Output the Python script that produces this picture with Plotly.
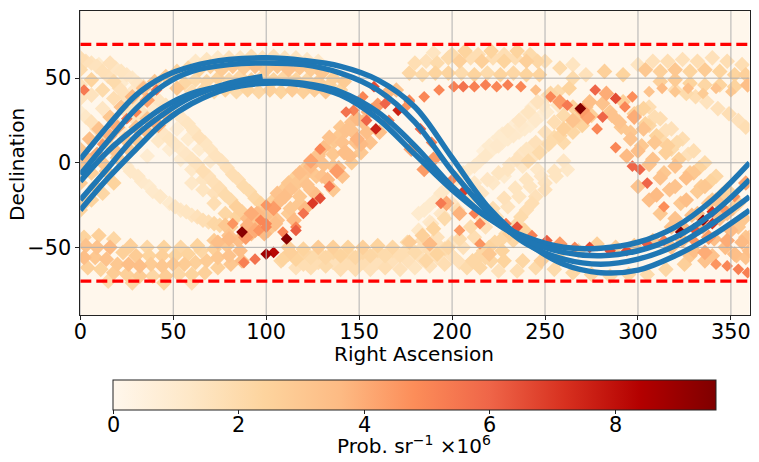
import plotly.graph_objects as go

# heat map pixels: RA, Dec, value (x 1e-6)
# falling bands, left side
fall1_ra = [16, 22, 28, 34, 40, 46, 52, 58, 64, 70, 76, 82, 88, 94, 100, 105]
fall1_dec = [59, 54, 50, 45, 39, 34, 29, 23, 15, 8, 1, -7, -14, -21, -28, -36]
fall1_val = [1.6, 1.4, 1.2, 1.6, 1.3, 1.5, 1.2, 1.4, 1.6, 1.4, 1.5, 1.8, 2.0, 2.2, 3.0, 3.4]

fall2_ra = [0, 6, 12, 18, 24, 30, 36, 42, 48, 54, 60, 66, 72, 78, 84, 90, 96]
fall2_dec = [62, 59, 54, 48, 40, 33, 27, 20, 14, 8, 2, -5, -12, -19, -26, -33, -40]
fall2_val = [1.8, 1.5, 1.7, 2.0, 1.6, 1.4, 1.5, 1.2, 1.4, 1.2, 1.4, 1.8, 1.7, 2.0, 2.6, 3.5, 4.6]

fall3_ra = [0, 6, 12, 18, 25, 31, 37, 43, 48, 54, 60, 66, 72, 78, 82, 87, 80, 74]
fall3_dec = [30, 24, 16, 7, -2, -8, -14, -20, -24, -28, -31, -34, -36, -37, -36, -41, -45, -47]
fall3_val = [1.0, 1.6, 2.0, 1.5, 1.0, 1.2, 1.0, 1.2, 1.0, 1.2, 1.4, 1.8, 2.2, 3.0, 4.6, 9.4, 3.6, 3.4]

fall4_ra = [0, 6, 12, 18, 24, 30, 36, 42, 48, 54, 60, 66, 72]
fall4_dec = [55, 49, 43, 38, 31, 25, 19, 13, 8, 2, -4, -10, -18]
fall4_val = [2.0, 2.4, 2.0, 1.8, 1.5, 1.4, 1.0, 1.2, 0.9, 0.9, 1.2, 1.4, 1.6]

fall5_ra = [0, 6, 12, 18, 24, 30, 36, 0, 2]
fall5_dec = [46, 40, 32, 25, 17, 10, 4, 38, 43]
fall5_val = [1.6, 1.5, 1.3, 1.2, 1.1, 1.0, 0.9, 1.5, 5.4]

fall10_ra = [10, 16, 22, 28, 34, 40, 46, 52, 58, 64, 70, 60, 66, 72, 78, 84, 90, 95, 100]
fall10_dec = [58, 52, 47, 42, 37, 32, 26, 20, 14, 8, 1, -12, -16, -24, -30, -32, -38, -30, -36]
fall10_val = [1.0, 1.2, 1.0, 1.1, 0.9, 1.0, 0.9, 0.8, 1.0, 1.0, 1.1, 1.2, 1.4, 1.8, 2.2, 2.4, 3.0, 3.6, 5.0]

fall12_ra = [3, 9, 15, 21, 27, 33, 39, 45, 51, 57, 63, 69, 75, 81, 87, 93, 99]
fall12_dec = [60, 57, 51, 44, 37, 30, 24, 17, 11, 5, -1, -8, -15, -22, -29, -36, -42]
fall12_val = [1.6, 1.5, 1.6, 1.6, 1.5, 1.4, 1.4, 1.3, 1.3, 1.3, 1.5, 1.6, 1.8, 2.0, 2.6, 3.0, 3.6]

fall13_ra = [19, 25, 31, 37, 43, 49, 55, 61, 67, 73, 79, 85, 91, 97, 103]
fall13_dec = [56, 52, 47, 42, 36, 31, 26, 19, 12, 4, -3, -10, -17, -24, -31]
fall13_val = [1.3, 1.3, 1.3, 1.2, 1.3, 1.2, 1.3, 1.4, 1.4, 1.5, 1.6, 1.8, 2.0, 2.4, 2.8]

fall14_ra = [3, 9, 15, 21, 27, 33, 39, 51, 57, 63, 69, 75, 81]
fall14_dec = [27, 20, 11, 2, -5, -11, -17, -26, -29, -32, -35, -37, -38]
fall14_val = [1.2, 1.6, 1.6, 1.2, 1.2, 1.1, 1.1, 1.4, 1.4, 1.6, 1.8, 2.2, 2.4]

# rising bands along the left part of the orbit
rise1_ra = [0, 4, 9, 12, 16, 20, 25, 30, 36, 41, 46, 42, 36, 31, 26, 20, 14, 8, 2]
rise1_dec = [-2, 2, 5, 11, 16, 21, 26, 30, 37, 43, 29, 22, 18, 13, 8, 3, -5, -14, -24]
rise1_val = [3.0, 3.4, 4.0, 4.5, 3.8, 4.0, 5.6, 5.0, 4.2, 5.6, 3.6, 4.0, 3.5, 3.0, 3.0, 2.8, 2.8, 2.6, 2.4]

rise8_ra = [0, 5, 10, 16, 22, 28, 34, 40, 46, 52, 0, 6, 12, 18, 24, 30, 36, 0, 6, 12, 18]
rise8_dec = [8, 14, 20, 27, 33, 39, 44, 48, 51, 44, -12, -6, 0, 8, 14, 21, 26, -28, -22, -18, -12]
rise8_val = [3.0, 3.4, 3.2, 3.0, 3.2, 3.6, 3.4, 3.0, 2.8, 3.0, 2.8, 2.6, 3.0, 3.2, 3.0, 3.2, 3.2, 2.4, 2.4, 2.2, 2.4]

# top hump, RA 50-150
hump_ra = [60, 66, 72, 78, 84, 90, 96, 102, 108, 114, 120, 126, 132,
           52, 58, 64, 70, 76, 82, 88, 94, 100, 106, 112, 118, 124, 130, 136, 142,
           56, 62, 68, 74, 80, 86, 92, 98, 104, 110, 116, 122, 128, 134, 140,
           62, 68, 74, 80, 86, 92, 98, 104, 110, 116, 122, 128]
hump_dec = [42, 43, 42, 43, 42, 43, 42, 43, 42, 43, 42, 43, 42,
            54, 56, 55, 57, 55, 57, 56, 57, 55, 57, 55, 56, 55, 53, 50, 48,
            47, 49, 48, 50, 49, 51, 49, 51, 49, 51, 49, 49, 48, 46, 43,
            60, 61, 62, 62, 62, 63, 62, 63, 62, 62, 61, 60]
hump_val = [1.8, 2.2, 2.0, 2.4, 2.0, 2.4, 2.2, 2.6, 2.4, 2.8, 2.6, 2.8, 3.0,
            2.4, 2.2, 2.4, 2.6, 2.8, 3.0, 2.8, 3.2, 2.8, 3.0, 3.2, 3.0, 2.8, 3.0, 2.6, 2.8,
            2.2, 2.0, 2.2, 2.4, 2.0, 2.2, 2.4, 2.2, 2.4, 2.2, 2.4, 2.2, 2.6, 2.4, 2.4,
            1.2, 1.4, 1.2, 1.6, 1.4, 1.8, 1.5, 1.6, 1.5, 1.4, 1.3, 1.2]

# rising bands, RA 90-180
rise2_ra = [89, 94, 99, 104, 110, 115, 120, 124, 128, 90, 96, 100, 106, 112, 118, 124, 129, 134, 140, 143, 147, 152, 158]
rise2_dec = [-44, -40, -32, -27, -20, -14, -8, -2, 4, -37, -30, -25, -18, -12, -6, 1, 8, 15, 21, 30, 31, 39, 45]
rise2_val = [4.4, 4.0, 3.4, 4.4, 3.4, 3.0, 3.0, 3.6, 3.2, 3.8, 3.2, 4.6, 3.2, 3.0, 3.4, 4.2, 5.0, 3.2, 3.0, 5.6, 5.2, 5.0, 6.6]

rise3_ra = [88, 94, 100, 104, 111, 116, 120, 125, 129, 134, 138, 143, 149, 154, 159, 164]
rise3_dec = [-59, -57, -54, -53, -45, -40, -30, -24, -21, -14, -5, 6, 14, 25, 20, 35]
rise3_val = [5.2, 5.6, 8.8, 8.2, 9.4, 6.2, 5.6, 7.0, 6.6, 5.4, 4.4, 3.4, 3.8, 6.0, 7.6, 6.0]

rise4_ra = [136, 141, 146, 151, 156, 161, 166, 171, 177, 183, 189, 170, 176, 165, 160, 155]
rise4_dec = [-16, -8, 0, 6, 12, 18, 25, 31, 37, 20, 12, 43, 34, 41, 34, 30]
rise4_val = [3.0, 3.2, 2.8, 3.0, 3.2, 3.4, 5.4, 7.6, 5.0, 6.0, 5.2, 3.2, 4.6, 3.6, 4.4, 3.8]

rise9_ra = [104, 110, 116, 122, 128, 134, 140, 146, 112, 118, 124, 130, 136, 142, 148, 154, 109, 116, 97, 100, 92, 113, 109]
rise9_dec = [-22, -15, -8, -2, 5, 11, 17, 24, -30, -24, -16, -8, -2, 6, 12, 18, -41, -38, -34, -38, -30, -53, -57]
rise9_val = [2.6, 2.8, 2.6, 2.8, 3.0, 2.6, 3.0, 3.2, 2.8, 3.0, 3.2, 3.2, 3.0, 3.4, 3.2, 3.4, 5.0, 5.0, 5.0, 5.0, 4.0, 2.6, 2.4]

rise11_ra = [92, 97, 102, 107, 113, 118, 123, 127, 131, 137, 143, 149,
             101, 106, 113, 118, 122, 127, 131, 136, 141, 146, 152, 157,
             115, 121, 127, 133, 139, 145, 151]
rise11_dec = [-42, -36, -29, -23, -16, -10, -4, 2, 9, 13, 19, 26,
              -40, -34, -27, -20, -13, -8, -1, 5, 12, 19, 24, 31,
              -34, -27, -19, -10, -3, 4, 11]
rise11_val = [3.4, 3.4, 3.2, 3.4, 3.2, 3.0, 3.2, 3.2, 3.4, 3.0, 3.2, 3.6,
              3.0, 3.2, 3.0, 3.0, 3.2, 3.0, 3.2, 3.0, 3.2, 3.2, 3.4, 3.6,
              3.6, 3.6, 3.4, 3.6, 3.4, 3.4, 3.6]

# falling along the descending orbit, under the blue lines
track_ra = [194, 200, 207, 212, 215, 222, 229, 235, 243, 251, 258, 266, 274, 285, 294, 305, 314, 323, 330, 335, 340, 340, 346, 352, 358, 185, 178, 190, 197, 204]
track_dec = [-24, -10, -16, -30, -36, -33, -36, -38, -43, -46, -48, -50, -50, -52, -52, -48, -46, -41, -39, -34, -29, -36, -27, -20, -12, -4, 8, 2, -24, -30]
track_val = [5.4, 5.0, 7.0, 5.2, 5.0, 4.8, 5.4, 6.4, 5.2, 6.2, 4.4, 5.0, 6.6, 6.6, 6.6, 6.2, 5.2, 9.4, 6.4, 9.0, 7.2, 7.2, 4.6, 4.6, 4.2, 4.4, 4.2, 4.4, 4.0, 3.8]

# falling bands, right side
fall6_ra = [253, 258, 262, 269, 273, 278, 281, 288, 294, 297, 301, 305, 310, 314, 320, 325, 330, 336, 342, 348, 354, 359]
fall6_dec = [39, 36, 34, 32, 27, 20, 27, 9, 4, -2, -4, -12, -19, -26, -33, -39, -46, -53, -60, -61, -63, -65]
fall6_val = [5.0, 4.4, 5.4, 9.5, 4.2, 5.0, 6.0, 5.0, 3.6, 6.0, 6.0, 6.0, 3.6, 4.8, 3.2, 3.6, 4.6, 4.0, 4.6, 5.0, 5.2, 5.2]

fall7_ra = [277, 283, 288, 293, 298, 303, 309, 315, 320, 326, 332, 338, 344, 350, 356, 360]
fall7_dec = [43, 41, 38, 33, 27, 20, 12, 6, -2, -9, -17, -24, -33, -40, -47, -52]
fall7_val = [6.0, 4.0, 6.6, 5.0, 4.0, 3.2, 3.0, 2.6, 3.2, 3.4, 2.8, 3.0, 3.4, 3.6, 3.6, 3.4]

fall8_ra = [297, 303, 309, 315, 321, 327, 333, 339, 345, 351, 357]
fall8_dec = [39, 32, 27, 19, 12, 5, -3, -11, -19, -27, -33]
fall8_val = [4.8, 2.4, 1.8, 1.6, 2.0, 1.6, 2.4, 2.4, 2.6, 2.6, 3.0]

fall9_ra = [320, 326, 331, 337, 343, 349, 354, 358]
fall9_dec = [43, 41, 39, 36, 32, 29, 25, 21]
fall9_val = [1.8, 2.0, 1.8, 1.5, 1.6, 1.8, 1.6, 1.8]

fall11_ra = [285, 290, 296, 302, 308, 314, 320, 326, 332, 300, 306, 312, 318, 330, 336, 342, 348, 354, 360, 300, 306, 312, 318, 324, 330, 336]
fall11_dec = [30, 24, 18, 10, 2, -6, -14, -22, -30, 30, 22, 14, 8, -6, -14, -22, -30, -38, -44, -14, -22, -30, -38, -46, -52, -58]
fall11_val = [3.0, 3.2, 3.0, 3.0, 3.2, 3.0, 3.2, 3.4, 3.2, 2.4, 2.2, 2.0, 2.0, 3.0, 3.0, 3.2, 3.2, 3.0, 3.2, 3.2, 3.4, 3.0, 3.2, 3.2, 3.4, 3.2]

fall15_ra = [281, 286, 291, 296, 300, 306, 312, 317, 323, 329, 335, 341, 347, 353,
             292, 298, 304, 310, 316, 322, 328, 334, 340, 346, 352, 358,
             306, 312, 318, 324, 330, 336, 342, 348, 354]
fall15_dec = [35, 28, 21, 14, 7, -1, -9, -16, -24, -31, -38, -45, -50, -55,
              36, 29, 23, 16, 10, 2, -6, -14, -22, -30, -37, -44,
              33, 26, 20, 14, 7, 0, -8, -16, -24]
fall15_val = [3.2, 3.2, 3.0, 3.2, 3.4, 3.2, 3.2, 3.2, 3.0, 3.4, 3.6, 3.4, 3.4, 3.2,
              2.6, 2.6, 2.4, 2.4, 2.6, 2.6, 2.8, 2.8, 2.8, 2.8, 2.8, 3.0,
              1.8, 1.8, 1.6, 1.8, 1.8, 2.0, 2.2, 2.4, 2.4]

# faint rising bands, RA 170-280
rise5_ra = [217, 222, 227, 233, 238, 243, 249, 253, 245, 250, 255, 260, 265, 270, 274, 238, 243, 248, 253]
rise5_dec = [7, 12, 17, 22, 27, 33, 37, 41, 5, 10, 15, 20, 25, 31, 36, -2, 3, 7, 12]
rise5_val = [0.6, 0.7, 0.9, 0.8, 1.0, 0.9, 1.0, 2.2, 1.2, 1.4, 2.0, 2.6, 3.2, 4.4, 3.4, 1.2, 1.4, 1.3, 1.6]

rise6_ra = [182, 188, 194, 200, 206, 212, 218, 224, 230, 236, 242, 248, 208, 214, 220, 226, 231, 237, 243, 250, 256, 262]
rise6_dec = [-30, -25, -18, -12, -6, -2, 4, 10, 14, 18, 22, 28, -62, -56, -50, -46, -42, -32, -24, -16, -8, -4]
rise6_val = [1.0, 1.0, 1.2, 1.1, 1.2, 1.1, 1.2, 1.1, 1.0, 1.0, 0.9, 0.8, 2.0, 2.2, 2.4, 2.2, 2.6, 2.0, 1.8, 1.6, 1.4, 1.2]

rise7_ra = [177, 184, 190, 196, 203, 210, 216, 222, 228, 186, 192, 198, 204, 210, 216, 222, 228, 234, 240, 246]
rise7_dec = [-47, -43, -39, -33, -28, -22, -18, -12, -8, -58, -54, -50, -45, -38, -33, -27, -21, -15, -10, -4]
rise7_val = [2.8, 2.6, 2.4, 2.0, 1.8, 1.4, 1.3, 1.2, 1.0, 2.2, 2.4, 2.2, 2.0, 2.0, 1.8, 1.8, 1.6, 1.4, 1.4, 1.2]

rise10_ra = [260, 265, 270, 275, 230, 235, 240, 245, 250, 255, 260, 265, 225, 231, 237, 243, 249, 182, 188, 194, 200, 206, 212,
             200, 206, 212, 218, 224, 230, 236, 242, 248, 215, 221, 227, 233, 239, 204, 215, 220, 188]
rise10_dec = [12, 18, 22, 28, -4, 2, 8, 12, 18, 24, 28, 33, 10, 16, 22, 28, 34, -40, -35, -30, -24, -18, -12,
              -55, -50, -44, -38, -32, -26, -20, -14, -8, -62, -58, -52, -46, -40, -40, -48, -54, -48]
rise10_val = [2.0, 2.2, 2.4, 2.6, 1.4, 1.5, 1.4, 1.6, 1.6, 1.8, 2.0, 2.4, 1.0, 1.0, 1.1, 1.1, 1.2, 1.2, 1.1, 1.2, 1.2, 1.1, 1.2,
              1.6, 1.6, 1.8, 1.6, 1.6, 1.5, 1.4, 1.4, 1.3, 2.2, 2.2, 2.4, 2.2, 2.4, 4.5, 4.6, 3.0, 3.6]

rise12_ra = [220, 225, 230, 236, 241, 246, 252, 257, 263,
             241, 247, 252, 258, 263, 268, 272,
             185, 191, 197, 203, 209, 215, 221, 227, 233, 239, 245, 251, 257,
             189, 195, 201, 207, 213, 219, 225, 231, 237, 243,
             211, 217, 223, 229, 235, 240, 245, 250, 255, 260]
rise12_dec = [10, 15, 19, 25, 30, 36, 40, 42, 44,
              1, 6, 11, 16, 21, 27, 33,
              -28, -22, -15, -9, -4, 1, 7, 12, 16, 20, 25, 30, 34,
              -36, -31, -26, -20, -15, -10, -6, -1, 5, 10,
              -58, -52, -47, -42, -36, -28, -20, -12, -5, 1]
rise12_val = [1.0, 1.0, 1.2, 1.3, 1.4, 1.5, 1.8, 2.0, 2.4,
              2.0, 2.0, 2.0, 2.2, 2.2, 2.6, 3.0,
              1.0, 1.0, 1.0, 1.1, 1.0, 1.1, 1.0, 1.0, 1.1, 1.0, 1.1, 1.0, 1.2,
              1.3, 1.3, 1.3, 1.4, 1.3, 1.3, 1.4, 1.3, 1.3, 1.4,
              2.2, 2.2, 2.2, 2.0, 2.0, 1.8, 1.6, 1.5, 1.4, 1.3]

# top band, RA 170-360
top_ra = [177, 184, 191, 198, 205, 212, 219, 226, 233, 240, 247,
          180, 186, 192, 198, 204, 210, 216, 222, 228, 234, 240, 246,
          190, 200, 207, 214, 221, 228, 235, 242, 250, 258, 265,
          265, 272, 282, 292, 304, 312, 320, 328, 336, 344, 352, 358,
          300, 308, 316, 324, 332, 340, 348, 356,
          312, 320, 328, 336, 344, 352, 359]
top_dec = [53, 52, 53, 53, 53, 52, 53, 52, 53, 52, 52,
           59, 60, 59, 62, 60, 62, 60, 62, 60, 62, 60, 60,
           65, 64, 66, 64, 66, 64, 66, 64, 60, 56, 58,
           50, 52, 54, 52, 55, 54, 55, 54, 55, 54, 52, 52,
           58, 60, 60, 61, 60, 62, 60, 58,
           48, 49, 47, 46, 46, 45, 46]
top_val = [2.2, 2.0, 2.4, 2.4, 2.0, 2.4, 2.0, 2.4, 2.2, 2.4, 2.4,
           1.8, 1.6, 2.0, 2.0, 2.6, 1.8, 2.6, 1.8, 2.4, 1.8, 2.6, 2.2,
           1.4, 2.0, 2.4, 1.8, 2.4, 1.8, 2.4, 2.0, 1.8, 2.0, 1.4,
           2.0, 1.6, 2.6, 2.4, 3.0, 2.6, 3.0, 2.4, 2.8, 2.4, 2.4, 2.6,
           1.4, 1.6, 1.8, 1.6, 1.8, 1.6, 1.8, 1.8,
           2.6, 2.8, 2.4, 2.2, 2.4, 2.4, 3.4]

# the separate row of small diamonds near Dec 45
row_ra = [177, 185, 193, 201, 206, 212, 218, 224, 230, 237, 245, 306, 313, 320, 327, 335, 342, 350]
row_dec = [36, 39, 43, 45, 45, 45, 46, 45, 46, 45, 43, 42, 44, 42, 44, 41, 44, 42]
row_val = [5.0, 5.0, 5.0, 5.2, 5.6, 5.2, 5.2, 5.0, 5.2, 5.0, 3.4, 3.2, 3.6, 3.0, 3.4, 2.8, 3.2, 3.0]

# bottom band, RA 0-90
lowl_ra = [2, 10, 18, 27, 36, 45, 54, 63, 72, 80,
           3, 9, 16, 23, 30, 37, 44, 51, 58, 65, 72, 79, 85,
           2, 8, 14, 20, 26, 32, 38, 44, 50, 56, 62, 68, 74, 80, 86,
           4, 11, 18, 25, 32, 39, 46, 53, 60, 67, 74, 81, 87,
           15, 28, 45, 60]
lowl_dec = [-44, -43, -45, -49, -50, -50, -50, -49, -46, -43,
            -49, -50, -50, -53, -55, -55, -55, -55, -54, -52, -51, -49, -46,
            -56, -56, -57, -60, -60, -61, -60, -61, -60, -60, -59, -58, -56, -55, -52,
            -62, -63, -65, -66, -67, -67, -67, -66, -66, -65, -62, -60, -58,
            -70, -71, -71, -71]
lowl_val = [2.4, 2.6, 2.2, 2.6, 2.2, 2.4, 2.2, 2.4, 2.8, 3.2,
            3.2, 3.2, 3.6, 2.6, 2.8, 2.4, 2.6, 2.4, 2.4, 2.2, 2.6, 3.0, 3.4,
            3.4, 3.0, 3.2, 3.0, 3.4, 3.4, 2.8, 3.0, 3.0, 2.8, 2.6, 2.8, 3.0, 3.2, 3.4,
            2.6, 2.4, 2.8, 2.6, 2.8, 2.2, 2.8, 2.2, 2.4, 2.6, 2.6, 3.0, 3.4,
            2.0, 2.2, 2.4, 1.8]

# bottom band, RA 105-210
lowr_ra = [112, 120, 128, 136, 144, 152, 160, 168, 176, 184, 192,
           108, 116, 124, 132, 140, 148, 156, 164, 172, 180, 188, 196,
           116, 124, 132, 140, 148, 156, 164, 172, 180, 188, 196, 204,
           112, 120, 128, 136, 144, 152, 160, 168, 176, 184, 192, 200,
           120, 128, 136, 144, 152, 160, 168, 176, 184, 192, 200]
lowr_dec = [-50, -51, -50, -50, -50, -50, -49, -50, -47, -46, -44,
            -58, -57, -56, -56, -55, -56, -55, -55, -55, -53, -52, -51,
            -62, -62, -61, -63, -63, -63, -62, -63, -62, -61, -60, -59,
            -54, -53, -53, -53, -53, -53, -52, -52, -51, -50, -48, -47,
            -60, -59, -59, -59, -59, -59, -58, -58, -57, -56, -55]
lowr_val = [2.6, 2.4, 2.8, 2.6, 2.4, 2.6, 2.4, 2.2, 2.0, 1.8, 1.6,
            2.2, 2.4, 2.0, 2.2, 2.4, 2.2, 2.2, 2.0, 1.8, 2.0, 1.8, 2.0,
            1.6, 1.8, 2.0, 1.8, 1.8, 1.6, 1.8, 1.6, 1.4, 1.6, 1.8, 1.6,
            2.2, 2.2, 2.0, 2.2, 2.0, 2.2, 2.0, 1.8, 1.8, 1.6, 1.6, 1.4,
            1.8, 1.8, 1.6, 1.8, 1.8, 1.6, 1.6, 1.6, 1.6, 1.6, 1.6]

# bottom right fans under the orbit
lowt_ra = [218, 228, 238, 248, 258, 268, 278, 288, 298, 308, 318, 328, 338, 348,
           225, 235, 245, 255, 265, 275, 285, 295, 305, 315, 325, 340, 352, 358]
lowt_dec = [-56, -58, -58, -58, -57, -52, -48, -50, -49, -46, -50, -55, -44, -46,
            -64, -64, -62, -63, -65, -66, -67, -66, -66, -63, -60, -55, -54, -56]
lowt_val = [2.2, 2.4, 2.2, 2.6, 2.4, 2.2, 2.6, 2.6, 2.8, 3.0, 3.2, 3.0, 4.4, 4.0,
            1.6, 1.8, 2.0, 2.0, 2.2, 2.2, 2.0, 2.2, 2.0, 2.2, 2.6, 3.2, 3.4, 3.2]

# satellite tracks
track_grid = [0, 15, 30, 45, 60, 80, 100, 120, 140, 160, 180, 200, 220, 240, 260, 280, 300, 320, 340, 360]
orbit1_dec = [2, 22, 40, 51, 57, 61, 62, 60.5, 57, 49, 33, 3, -27, -47, -60, -65, -63.5, -55, -43, -28]
orbit2_dec = [-28, -9, 8, 24, 35, 44, 47, 46, 40, 26, 5, -16, -33, -44, -50, -50.5, -47, -38, -22, 0]
orbit3_dec = [-7, 13, 32, 46, 54, 58, 59, 58, 53, 43, 24, -5, -30, -48, -57, -60, -57, -49, -36, -20]
orbit4_dec = [-11, 7, 21, 33, 41, 46, 48, 47, 42, 30, 10, -14, -33, -46, -53, -55, -52, -44, -30, -10]
partial_ra = [0, 15, 30, 45, 60, 80, 98]
partial_dec = [-22, -3, 16, 29, 39, 47, 51]

limit_dec = [70, -70]
x_ticks = [0, 50, 100, 150, 200, 250, 300, 350]
y_ticks = [-50, 0, 50]
cbar_ticks = [0, 2, 4, 6, 8]
cbar_max = 9.6

orrd = [
    [0.0, "#fff7ec"], [0.125, "#fee8c8"], [0.25, "#fdd49e"], [0.375, "#fdbb84"],
    [0.5, "#fc8d59"], [0.625, "#ef6548"], [0.75, "#d7301f"], [0.875, "#b30000"],
    [1.0, "#7f0000"],
]

bands = [
    (fall1_ra, fall1_dec, fall1_val), (fall2_ra, fall2_dec, fall2_val),
    (fall3_ra, fall3_dec, fall3_val), (fall4_ra, fall4_dec, fall4_val),
    (fall5_ra, fall5_dec, fall5_val), (fall10_ra, fall10_dec, fall10_val),
    (fall12_ra, fall12_dec, fall12_val), (fall13_ra, fall13_dec, fall13_val),
    (fall14_ra, fall14_dec, fall14_val),
    (rise1_ra, rise1_dec, rise1_val), (rise8_ra, rise8_dec, rise8_val),
    (hump_ra, hump_dec, hump_val), (rise2_ra, rise2_dec, rise2_val),
    (rise3_ra, rise3_dec, rise3_val), (rise4_ra, rise4_dec, rise4_val),
    (rise9_ra, rise9_dec, rise9_val), (rise11_ra, rise11_dec, rise11_val),
    (track_ra, track_dec, track_val),
    (fall6_ra, fall6_dec, fall6_val), (fall7_ra, fall7_dec, fall7_val),
    (fall8_ra, fall8_dec, fall8_val), (fall9_ra, fall9_dec, fall9_val),
    (fall11_ra, fall11_dec, fall11_val), (fall15_ra, fall15_dec, fall15_val),
    (rise5_ra, rise5_dec, rise5_val),
    (rise6_ra, rise6_dec, rise6_val), (rise7_ra, rise7_dec, rise7_val),
    (rise10_ra, rise10_dec, rise10_val), (rise12_ra, rise12_dec, rise12_val),
    (top_ra, top_dec, top_val),
    (lowl_ra, lowl_dec, lowl_val), (lowr_ra, lowr_dec, lowr_val),
    (lowt_ra, lowt_dec, lowt_val),
]

# paint low values first so the hot pixels stay on top
pixels = sorted(
    [p for ra, dec, val in bands for p in zip(ra, dec, val)], key=lambda p: p[2]
)
broad = [p for p in pixels if p[2] < 4.5]
hot = [p for p in pixels if p[2] >= 4.5]

fig = go.Figure()
fig.add_trace(
    go.Scatter(
        x=[p[0] for p in broad],
        y=[p[1] for p in broad],
        mode="markers",
        marker=dict(symbol="diamond", size=12, color=[p[2] for p in broad],
                    coloraxis="coloraxis", line=dict(width=0)),
        showlegend=False,
    )
)
fig.add_trace(
    go.Scatter(
        x=row_ra + [p[0] for p in hot],
        y=row_dec + [p[1] for p in hot],
        mode="markers",
        marker=dict(symbol="diamond", size=9, color=row_val + [p[2] for p in hot],
                    coloraxis="coloraxis", line=dict(width=0)),
        showlegend=False,
    )
)

# grid sits over the heat map but under the lines, so draw it as traces
for x in x_ticks:
    fig.add_trace(go.Scatter(x=[x, x], y=[-90, 90], mode="lines",
                             line=dict(color="#b0b0b0", width=1), showlegend=False))
for y in y_ticks:
    fig.add_trace(go.Scatter(x=[0, 360], y=[y, y], mode="lines",
                             line=dict(color="#b0b0b0", width=1), showlegend=False))

for orbit in [orbit1_dec, orbit2_dec, orbit3_dec, orbit4_dec]:
    fig.add_trace(go.Scatter(x=track_grid, y=orbit, mode="lines",
                             line=dict(color="#1f77b4", width=5.5, shape="spline"),
                             showlegend=False))
fig.add_trace(go.Scatter(x=partial_ra, y=partial_dec, mode="lines",
                         line=dict(color="#1f77b4", width=5.5, shape="spline"),
                         showlegend=False))

for d in limit_dec:
    fig.add_trace(go.Scatter(x=[0, 360], y=[d, d], mode="lines",
                             line=dict(color="#ff0000", width=3.2, dash="11px,5px"),
                             showlegend=False))

axis_style = dict(
    showgrid=False, zeroline=False, showline=True, mirror=True, automargin=False,
    linecolor="#222222", linewidth=1, ticks="outside", ticklen=4,
    tickcolor="#222222", tickfont=dict(size=20.8, color="black"),
)

# the page body has an 8px margin, so the figure is 8px smaller and positions are shifted
W, H, PAD = 751, 454, 8
BAR_LEFT, BAR_LEN = 113, 603


def label(text, x, y, size=20, angle=0):
    return dict(text=text, x=(x - PAD) / W, y=1 - (y - PAD) / H, xref="paper", yref="paper",
                showarrow=False, font=dict(size=size), textangle=angle,
                xanchor="center", yanchor="middle")


cbar_labels = [
    label(str(v), BAR_LEFT + BAR_LEN * v / cbar_max, 425, size=20.8) for v in cbar_ticks
]

fig.update_layout(
    width=W,
    height=H,
    margin=dict(l=0, r=0, t=0, b=0, autoexpand=False),
    paper_bgcolor="white",
    plot_bgcolor="#fff7ec",
    font=dict(family="DejaVu Sans", color="black"),
    xaxis=dict(
        domain=[(80.3 - PAD) / W, (749.5 - PAD) / W], range=[0, 360], tickvals=x_ticks,
        ticklabelstandoff=-6,
        **axis_style,
    ),
    yaxis=dict(
        domain=[1 - (315 - PAD) / H, 1 - (10.5 - PAD) / H], range=[-90, 90], tickvals=y_ticks,
        ticktext=["\u221250", "0", "50"],
        **axis_style,
    ),
    annotations=[
        label("Right Ascension", 414, 354),
        label("Declination", 17, 165, angle=-90),
        label("Prob. sr<sup>\u22121</sup> \u00d710<sup>6</sup>", 414, 445),
    ] + cbar_labels,
    coloraxis=dict(
        colorscale=orrd, cmin=0, cmax=cbar_max,
        colorbar=dict(
            orientation="h", xref="container", yref="container",
            x=(BAR_LEFT - PAD) / W, xanchor="left", y=1 - (380 - PAD) / H, yanchor="top",
            len=BAR_LEN, lenmode="pixels", thickness=30, thicknessmode="pixels",
            xpad=0, ypad=0, outlinecolor="#222222", outlinewidth=1,
            tickvals=cbar_ticks, ticks="outside", ticklen=4, tickcolor="#222222",
            showticklabels=False,
        ),
    ),
)

fig.write_html("out.html")
